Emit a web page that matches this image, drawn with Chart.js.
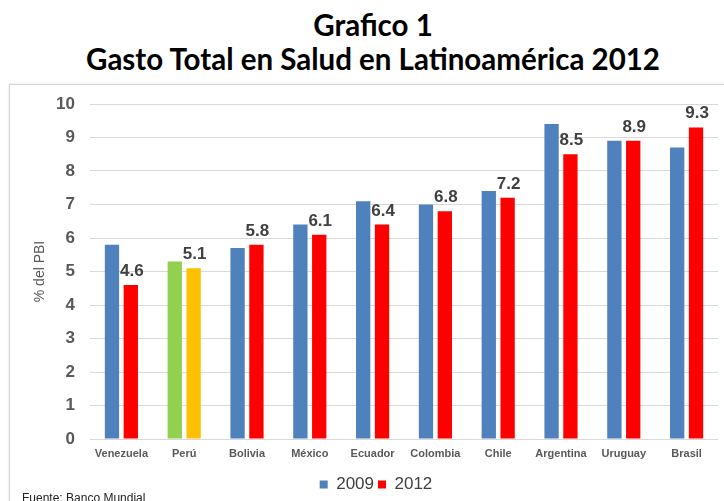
<!DOCTYPE html>
<html lang="es">
<head>
<meta charset="utf-8">
<title>Gasto Total en Salud en Latinoamérica 2012</title>
<script src="https://cdn.jsdelivr.net/npm/chart.js@4.4.1/dist/chart.umd.min.js"></script>
<style>
  html, body { margin: 0; padding: 0; background: #fff; }
  body { width: 724px; height: 501px; position: relative; overflow: hidden; }
  .titulo {
    position: absolute; left: 0; top: 8px; width: 702px; padding-left: 22px;
    text-align: center; font-family: Lato, "Open Sans", sans-serif;
    font-weight: bold; font-size: 29.5px; line-height: 34px; color: #000;
  }
  .marco {
    position: absolute; left: 9px; top: 84px; width: 740px; height: 440px;
    border: 1px solid #d4d4d4; box-shadow: 0 0 2px rgba(0,0,0,0.12);
  }
  .grafico { position: absolute; left: 10px; top: 85px; width: 714px; height: 416px; }
  .fuente {
    position: absolute; left: 22px; top: 491px;
    font-family: "Liberation Sans", Arial, sans-serif; font-size: 12px; color: #222;
  }
</style>
</head>
<body>
<div class="titulo">Grafico 1<br>Gasto Total en Salud en Latinoamérica 2012</div>
<div class="marco"></div>
<div class="grafico"><canvas id="gasto-salud"></canvas></div>
<div class="fuente">Fuente: Banco Mundial</div>

<script>
var paises = ['Venezuela', 'Perú', 'Bolivia', 'México', 'Ecuador', 'Colombia', 'Chile', 'Argentina', 'Uruguay', 'Brasil'];
var gasto2009 = [5.8, 5.3, 5.7, 6.4, 7.1, 7.0, 7.4, 9.4, 8.9, 8.7];
var gasto2012 = [4.6, 5.1, 5.8, 6.1, 6.4, 6.8, 7.2, 8.5, 8.9, 9.3];
var ticksY = [0, 1, 2, 3, 4, 5, 6, 7, 8, 9, 10];

var AZUL = '#4f81bd';
var ROJO = '#ff0000';
var PERU = 'Perú';

// Perú se resalta con otros colores
function colorBarra(base, resalte) {
    return function (ctx) {
        if (ctx.dataIndex !== undefined && paises[ctx.dataIndex] === PERU) return resalte;
        return base;
    };
}

// etiquetas de valor sobre las barras de 2012
var etiquetas2012 = {
    id: 'etiquetas2012',
    afterLayout: function (chart) {
        // leyenda un poco corrida a la derecha y hacia abajo
        chart.legend.left += 12;
        chart.legend.right += 12;
        chart.legend.top += 2;
        chart.legend.bottom += 2;
    },
    afterDatasetsDraw: function (chart) {
        var meta = chart.getDatasetMeta(1);
        var c = chart.ctx;
        c.save();
        c.font = 'bold 17px "Liberation Sans", Arial, sans-serif';
        c.fillStyle = '#404040';
        c.textAlign = 'center';
        c.textBaseline = 'alphabetic';
        meta.data.forEach(function (bar, i) {
            c.fillText(gasto2012[i].toFixed(1), bar.x + 1, bar.y - 9);
        });
        c.restore();
    }
};

new Chart(document.getElementById('gasto-salud'), {
    type: 'bar',
    data: {
        labels: paises,
        datasets: [{
            label: '2009',
            data: gasto2009,
            backgroundColor: colorBarra(AZUL, '#92d050'),
            categoryPercentage: 0.6,
            barPercentage: 0.76
        }, {
            label: '2012',
            data: gasto2012,
            backgroundColor: colorBarra(ROJO, '#ffc000'),
            categoryPercentage: 0.6,
            barPercentage: 0.76
        }]
    },
    options: {
        responsive: true,
        maintainAspectRatio: false,
        animation: false,
        layout: { padding: { top: 19, right: 6, bottom: 0, left: 0 } },
        plugins: {
            legend: {
                position: 'bottom',
                labels: {
                    boxWidth: 8,
                    boxHeight: 8,
                    padding: 4,
                    color: '#404040',
                    font: { family: '"Liberation Sans", Arial, sans-serif', size: 17 }
                }
            },
            tooltip: { enabled: false }
        },
        scales: {
            x: {
                afterFit: function (scale) { scale.height = 31; },
                grid: { display: false, drawTicks: false },
                border: { display: false },
                ticks: {
                    color: '#595959',
                    padding: 8,
                    font: { family: '"Liberation Sans", Arial, sans-serif', size: 11, weight: 'bold' }
                }
            },
            y: {
                min: ticksY[0],
                max: ticksY[ticksY.length - 1],
                afterBuildTicks: function (scale) {
                    scale.ticks = ticksY.map(function (v) { return { value: v }; });
                },
                afterFit: function (scale) { scale.width = 80; },
                grid: { color: '#d9d9d9', tickLength: 15, tickColor: 'rgba(0,0,0,0)' },
                border: { display: false },
                ticks: {
                    color: '#595959',
                    padding: 0,
                    font: { family: '"Liberation Sans", Arial, sans-serif', size: 17, weight: 'bold' }
                },
                title: {
                    display: true,
                    text: '% del PBI',
                    color: '#595959',
                    padding: { top: 22, bottom: 0 },
                    font: { family: '"Liberation Sans", Arial, sans-serif', size: 14 }
                }
            }
        }
    },
    plugins: [etiquetas2012]
});
</script>
</body>
</html>
